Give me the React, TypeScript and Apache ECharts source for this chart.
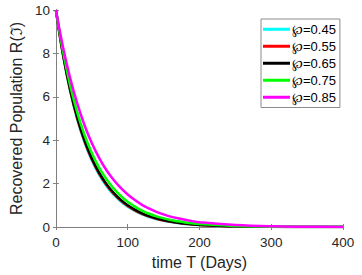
import React, { useEffect, useRef } from "react";
import * as echarts from "echarts";

const days = [0, 10, 20, 30, 40, 50, 60, 70, 80, 90, 100, 110, 120, 130, 140, 150, 160, 170, 180, 190, 200, 250, 300, 350, 400];
const seriesNames = ["℘=0.45", "℘=0.55", "℘=0.65", "℘=0.75", "℘=0.85"];
const seriesColors = ["#00ffff", "#ff0000", "#000000", "#00ff00", "#ff00ff"];
const r045 = [10, 7.89, 6.23, 4.91, 3.88, 3.06, 2.41, 1.9, 1.5, 1.18, 0.93, 0.74, 0.58, 0.46, 0.36, 0.29, 0.23, 0.18, 0.14, 0.11, 0.087, 0.027, 0.008, 0.002, 0.001];
const r055 = [10, 7.92, 6.28, 4.97, 3.94, 3.12, 2.47, 1.96, 1.55, 1.23, 0.97, 0.77, 0.61, 0.48, 0.38, 0.3, 0.24, 0.19, 0.15, 0.12, 0.095, 0.03, 0.009, 0.003, 0.001];
const r065 = [10, 7.95, 6.31, 5.02, 3.99, 3.17, 2.52, 2.0, 1.59, 1.26, 1.0, 0.8, 0.63, 0.5, 0.4, 0.32, 0.25, 0.2, 0.16, 0.13, 0.1, 0.032, 0.01, 0.003, 0.001];
const r075 = [10, 8.07, 6.5, 5.25, 4.23, 3.41, 2.75, 2.22, 1.79, 1.44, 1.16, 0.94, 0.76, 0.61, 0.49, 0.4, 0.32, 0.26, 0.21, 0.17, 0.14, 0.046, 0.016, 0.005, 0.002];
const r085 = [10, 8.27, 6.84, 5.66, 4.68, 3.87, 3.2, 2.64, 2.19, 1.81, 1.5, 1.24, 1.02, 0.85, 0.7, 0.58, 0.48, 0.4, 0.33, 0.27, 0.22, 0.09, 0.03, 0.013, 0.005];
const seriesValues = [r045, r055, r065, r075, r085];
const xTicks = [0, 100, 200, 300, 400];
const yTicks = [0, 2, 4, 6, 8, 10];

const FONT = "'Liberation Sans', Arial, sans-serif";
const AXIS_GRAY = "#808080";
const TEXT = "#262626";

export default function App() {
  const ref = useRef<HTMLDivElement>(null);
  useEffect(() => {
    if (!ref.current) return;
    const chart = echarts.init(ref.current, null, { renderer: "svg" });
    const hidden = { show: false };
    chart.setOption({
      animation: false,
      backgroundColor: "#ffffff",
      grid: { left: 50, right: 19, top: 10, bottom: 47, containLabel: false },
      legend: {
        orient: "vertical",
        left: 261,
        top: 19,
        width: 73,
        padding: [3, 4, 3, 2],
        itemGap: 2.5,
        itemWidth: 27,
        itemHeight: 3,
        icon: "rect",
        backgroundColor: "#ffffff",
        borderColor: "#8c8c8c",
        borderWidth: 1,
        textStyle: { fontFamily: FONT, fontSize: 13, color: "#000", padding: [0, 0, 0, -3], lineHeight: 14.5 },
        data: seriesNames,
      },
      xAxis: [
        {
          type: "value",
          min: xTicks[0],
          max: xTicks[xTicks.length - 1],
          interval: 100,
          name: "time T (Days)",
          nameLocation: "middle",
          nameGap: 27,
          nameTextStyle: { fontFamily: FONT, fontSize: 16, color: TEXT },
          axisLine: { show: true, onZero: false, lineStyle: { color: AXIS_GRAY, width: 1 } },
          axisTick: { show: true, inside: true, length: 3, lineStyle: { color: AXIS_GRAY } },
          axisLabel: { fontFamily: FONT, fontSize: 13.5, color: TEXT, margin: 8 },
          splitLine: hidden,
        },
        {
          type: "value",
          position: "top",
          min: xTicks[0],
          max: xTicks[xTicks.length - 1],
          interval: 100,
          axisLine: { show: true, lineStyle: { color: AXIS_GRAY, width: 1 } },
          axisTick: { show: true, inside: true, length: 3, lineStyle: { color: AXIS_GRAY } },
          axisLabel: hidden,
          splitLine: hidden,
        },
      ],
      yAxis: [
        {
          type: "value",
          min: yTicks[0],
          max: yTicks[yTicks.length - 1],
          interval: 2,
          name: "Recovered Population R(ℑ)",
          nameLocation: "middle",
          nameGap: 23,
          nameTextStyle: { fontFamily: FONT, fontSize: 16, color: TEXT },
          axisLine: { show: true, onZero: false, lineStyle: { color: AXIS_GRAY, width: 1 } },
          axisTick: { show: true, inside: true, length: 3, lineStyle: { color: AXIS_GRAY } },
          axisLabel: { fontFamily: FONT, fontSize: 13.5, color: TEXT, margin: 6 },
          splitLine: hidden,
        },
        {
          type: "value",
          position: "right",
          min: yTicks[0],
          max: yTicks[yTicks.length - 1],
          interval: 2,
          axisLine: { show: true, lineStyle: { color: AXIS_GRAY, width: 1 } },
          axisTick: { show: true, inside: true, length: 3, lineStyle: { color: AXIS_GRAY } },
          axisLabel: hidden,
          splitLine: hidden,
        },
      ],
      series: seriesNames.map((name, i) => ({
        name,
        type: "line",
        xAxisIndex: 0,
        yAxisIndex: 0,
        data: days.map((d, j) => [d, seriesValues[i][j]]),
        smooth: 0.4,
        showSymbol: false,
        symbol: "none",
        lineStyle: { color: seriesColors[i], width: 2.5 },
        itemStyle: { color: seriesColors[i] },
        z: 2 + i,
      })),
    });
    return () => chart.dispose();
  }, []);
  return <div ref={ref} style={{ position: "fixed", left: 0, top: 0, width: 362, height: 275 }} />;
}
